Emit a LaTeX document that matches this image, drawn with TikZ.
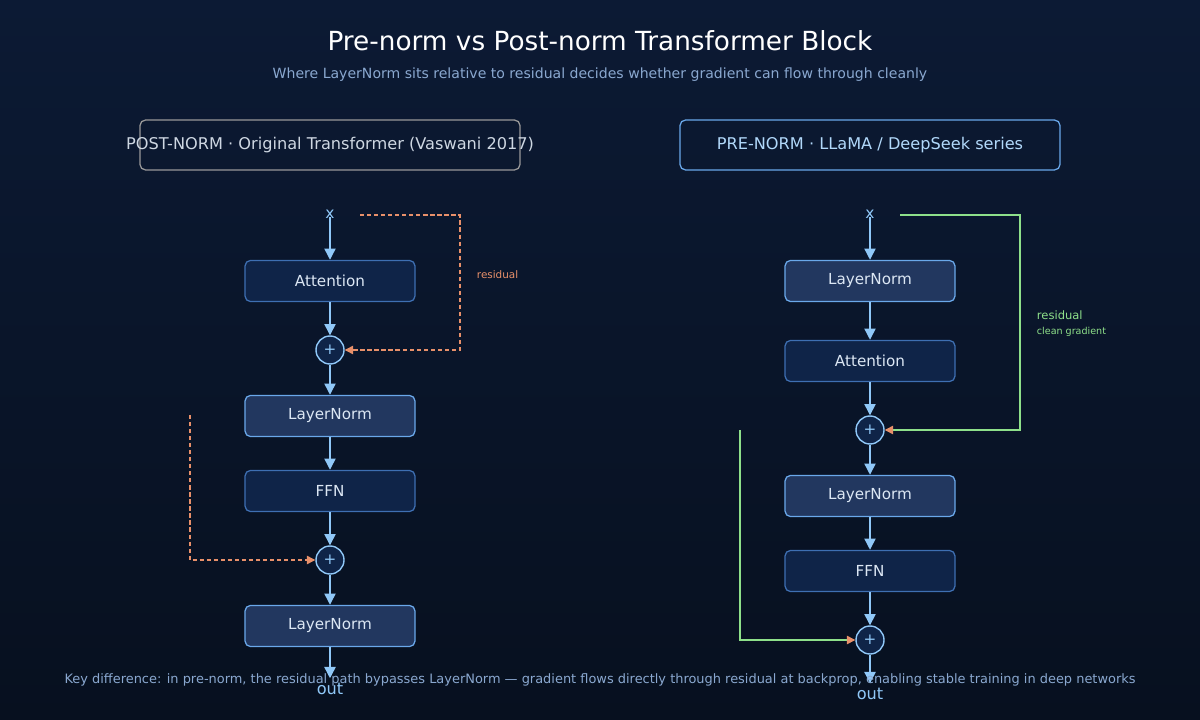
\documentclass[tikz,border=0pt]{standalone}
\usepackage{fontspec}
\setmainfont{DejaVu Sans}
\usetikzlibrary{arrows.meta, positioning}
\definecolor{bgtop}{HTML}{0C1A34}
\definecolor{bgbot}{HTML}{07101F}
\definecolor{flow}{HTML}{90C8F8}
\definecolor{opfill}{HTML}{0F2448}
\definecolor{opline}{HTML}{3E6FB2}
\definecolor{lnfill}{HTML}{22375F}
\definecolor{lnline}{HTML}{6AA8EA}
\definecolor{txt}{HTML}{DCE7F4}
\definecolor{resid}{HTML}{E8906A}
\definecolor{clean}{HTML}{8EE08A}
\definecolor{sub}{HTML}{8AA8D0}
\newcommand{\fs}[1]{\fontsize{#1}{#1}\selectfont}
\tikzset{
  op/.style={draw=opline, fill=opfill, rounded corners=4pt, line width=0.9pt,
    minimum width=4.25cm, minimum height=1.03cm, text=txt, font=\fs{10.8}},
  ln/.style={op, draw=lnline, fill=lnfill},
  add/.style={circle, draw=flow, fill=opfill, line width=1pt, minimum size=0.7cm,
    inner sep=0pt, text=flow, font=\fs{10.8}},
  io/.style={text=flow, font=\fs{11}},
  fl/.style={draw=flow, line width=1pt, -{Triangle[width=8pt,length=8pt]}},
  resd/.style={draw=resid, line width=0.9pt, dashed, dash pattern=on 3pt off 2pt,
    -{Triangle[width=6pt,length=6pt]}},
  resc/.style={draw=clean, line width=1pt, -{Triangle[width=6pt,length=6pt,color=resid]}},
  hdr/.style={draw, rounded corners=4pt, line width=0.9pt, minimum width=9.5cm,
    minimum height=1.25cm},
  hdrtext/.style={font=\fs{11.5}}
}
\begin{document}
\begin{tikzpicture}[x=0.025cm, y=-0.025cm]
\shade[top color=bgtop, bottom color=bgbot] (0,0) rectangle (1200,720);
\useasboundingbox (0,0) rectangle (1200,720);
% titles
\node[text=white, font=\fs{18.7}] (title) at (600,41) {Pre-norm vs Post-norm Transformer Block};
\node[text=sub, font=\fs{10}] (subtitle) at (600,75) {Where LayerNorm sits relative to residual decides whether gradient can flow through cleanly};
\node[hdr, draw=gray!80] (hpost) at (330,145) {};
\node[hdrtext, text=txt!85!gray] (hposttext) at (hpost) {POST-NORM · Original Transformer (Vaswani 2017)};
\node[hdr, draw=lnline] (hpre) at (870,145) {};
\node[hdrtext, text=flow!70!white] (hpretext) at (hpre) {PRE-NORM · LLaMA / DeepSeek series};
% post-norm column
\node[io] (px) at (330,214) {x};
\node[op] (pattn) at (330,281) {Attention};
\node[add] (padd1) at (330,350) {+};
\node[ln] (pln1) at (330,416) {LayerNorm};
\node[op] (pffn) at (330,491) {FFN};
\node[add] (padd2) at (330,560) {+};
\node[ln] (pln2) at (330,626) {LayerNorm};
\node[io, font=\fs{11.5}] (pout) at (330,689) {out};
\draw[fl] (px.south) ++(0,-6) -- (pattn);
\draw[fl] (pattn) -- (padd1);
\draw[fl] (padd1) -- (pln1);
\draw[fl] (pln1) -- (pffn);
\draw[fl] (pffn) -- (padd2);
\draw[fl] (padd2) -- (pln2);
\draw[fl] (pln2) -- (pout);
\coordinate (pr1) at (360,215);
\coordinate (pr2) at (190,415);
\draw[resd] (pr1) -- (460,215) -- (460,350) -- (padd1);
\node[text=resid, font=\fs{7.4}, anchor=west] (plab) at (472,275) {residual};
\draw[resd] (pr2) -- (190,560) -- (padd2);
% pre-norm column
\node[io] (qx) at (870,214) {x};
\node[ln] (qln1) at (870,281) {LayerNorm};
\node[op] (qattn) at (870,361) {Attention};
\node[add] (qadd1) at (870,430) {+};
\node[ln] (qln2) at (870,496) {LayerNorm};
\node[op] (qffn) at (870,571) {FFN};
\node[add] (qadd2) at (870,640) {+};
\node[io, font=\fs{11.5}] (qout) at (870,694) {out};
\draw[fl] (qx.south) ++(0,-6) -- (qln1);
\draw[fl] (qln1) -- (qattn);
\draw[fl] (qattn) -- (qadd1);
\draw[fl] (qadd1) -- (qln2);
\draw[fl] (qln2) -- (qffn);
\draw[fl] (qffn) -- (qadd2);
\draw[fl] (qadd2) -- (qout);
\coordinate (qr1) at (900,215);
\coordinate (qr2) at (740,430);
\draw[resc] (qr1) -- (1020,215) -- (1020,430) -- (qadd1);
\draw[resc] (qr2) -- (740,640) -- (qadd2);
\node[text=clean, font=\fs{8.2}, anchor=west] (qlab) at (1032,315) {residual};
\node[text=clean, font=\fs{6.8}, anchor=west] (qlab2) at (1032,332) {clean gradient};
% footer
\node[text=sub, font=\fs{9.2}] (foot) at (600,680) {Key difference: in pre-norm, the residual path bypasses LayerNorm — gradient flows directly through residual at backprop, enabling stable training in deep networks};
\end{tikzpicture}
\end{document}
